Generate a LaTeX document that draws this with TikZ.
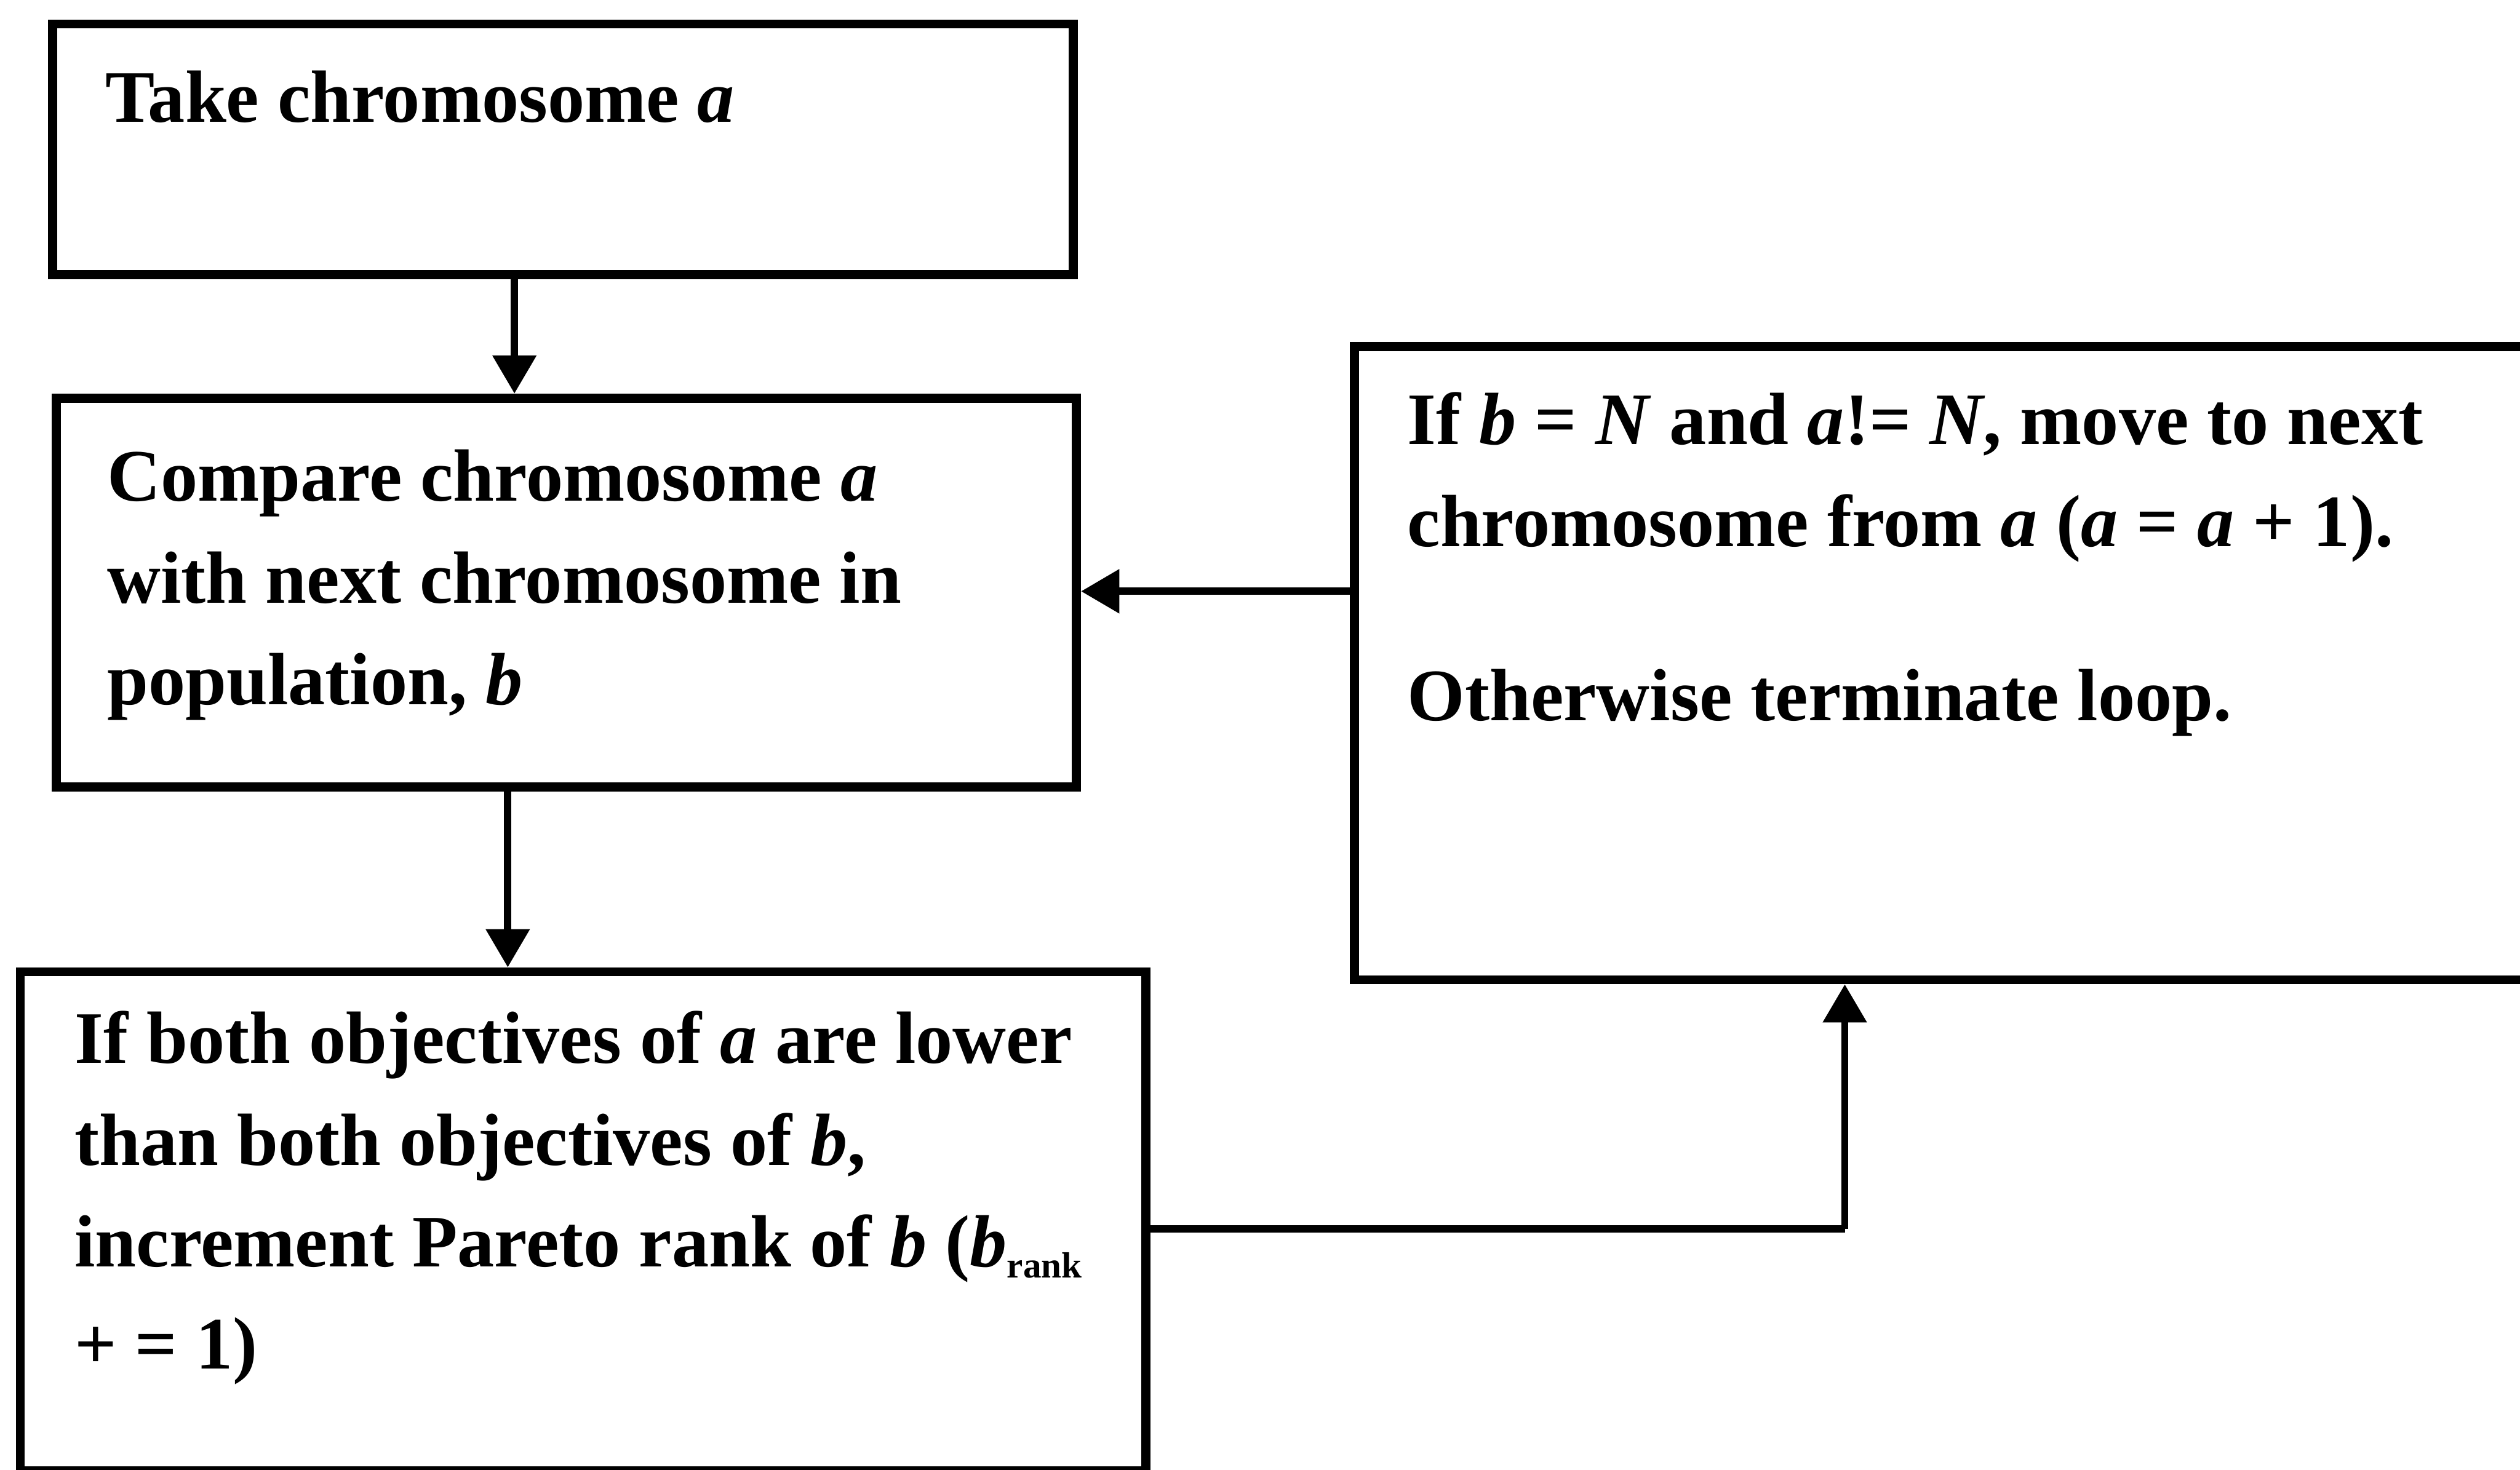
\documentclass[tikz,border=0pt]{standalone}
\usepackage{fontspec}
\setmainfont{Liberation Serif}
\usetikzlibrary{arrows.meta}
\newcommand{\linesblock}[1]{\parbox[t]{190pt}{\raggedright\fontsize{12.2pt}{16.8pt}\selectfont\bfseries #1}}
\tikzset{
  flowbox/.style={draw, line width=1.5pt, rectangle, inner sep=0pt, anchor=north west},
  boxtext/.style={anchor=base west, inner sep=0pt},
  flow/.style={line width=1.2pt, -{Triangle[length=6.3pt,width=7pt]}},
  plainline/.style={line width=1.2pt}
}
\begin{document}
\begin{tikzpicture}[x=1pt,y=1pt]
\useasboundingbox (0,0) rectangle (415.4,-242.3);
\clip (0,0) rectangle (415.4,-242.3);

% boxes
\node[flowbox, minimum width=168.3pt, minimum height=41.3pt] (take) at (7.9,-3.2) {};
\node[flowbox, minimum width=168.2pt, minimum height=64.1pt] (compare) at (8.5,-64.9) {};
\node[flowbox, minimum width=185.5pt, minimum height=82.3pt] (rank) at (2.6,-159.5) {};
\node[flowbox, minimum width=200pt, minimum height=104.4pt] (loop) at (222.5,-56.4) {};

% texts, each anchored at the baseline of its first line
\node[boxtext] (taketxt) at (17.2,-20.1) {\linesblock{Take chromosome \textit{a}}};
\node[boxtext] (comparetxt) at (17.5,-82.6) {\linesblock{Compare chromosome \textit{a}\\with next chromosome in\\population, \textit{b}}};
\node[boxtext] (ranktxt) at (12.1,-175.3) {\linesblock{If both objectives of \textit{a} are lower\\than both objectives of \textit{b},\\increment Pareto rank of \textit{b} (\textit{b}\textsubscript{\fontsize{6pt}{7pt}\selectfont rank}\\+ = 1)}};
\node[boxtext] (looptxt) at (231.8,-73.3) {\linesblock{If \textit{b} = \textit{N} and \textit{a}!= \textit{N}, move to next\\chromosome from \textit{a} (\textit{a} = \textit{a} + 1).\\[11.9pt]Otherwise terminate loop.}};

% connector positions
\coordinate (c1) at (84.8,0);
\coordinate (c2) at (83.7,0);
\coordinate (c3) at (0,-97.5);
\coordinate (c4) at (0,-202.6);
\coordinate (c5) at (304.1,0);
\coordinate (bend) at (304.1,-202.6);

% connectors
\draw[flow] (take.south -| c1) -- (compare.north -| c1);
\draw[flow] (compare.south -| c2) -- (rank.north -| c2);
\draw[flow] (loop.west |- c3) -- (compare.east |- c3);
\draw[plainline] (rank.east |- c4) -- (bend);
\draw[flow] (bend) -- (loop.south -| c5);
\end{tikzpicture}
\end{document}
